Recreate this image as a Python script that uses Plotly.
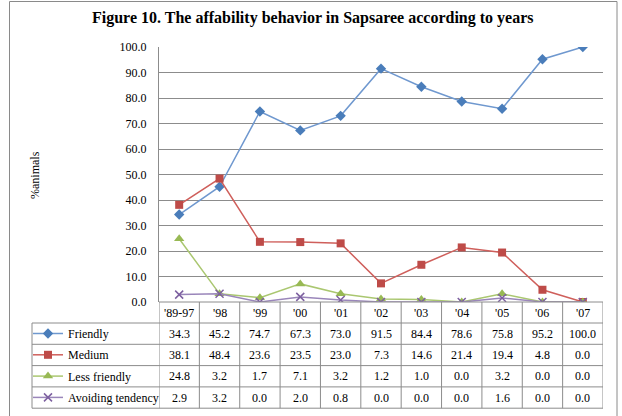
import plotly.graph_objects as go

years = ["'89-97", "'98", "'99", "'00", "'01", "'02", "'03", "'04", "'05", "'06", "'07"]
friendly = [34.3, 45.2, 74.7, 67.3, 73.0, 91.5, 84.4, 78.6, 75.8, 95.2, 100.0]
medium = [38.1, 48.4, 23.6, 23.5, 23.0, 7.3, 14.6, 21.4, 19.4, 4.8, 0.0]
less_friendly = [24.8, 3.2, 1.7, 7.1, 3.2, 1.2, 1.0, 0.0, 3.2, 0.0, 0.0]
avoiding = [2.9, 3.2, 0.0, 2.0, 0.8, 0.0, 0.0, 0.0, 1.6, 0.0, 0.0]
series_names = ["Friendly", "Medium", "Less friendly", "Avoiding tendency"]
y_ticks = [0, 10, 20, 30, 40, 50, 60, 70, 80, 90, 100]
title_text = "Figure 10. The affability behavior in Sapsaree according to years"
y_title = "%animals"

W, H = 622, 416
FONT = "Liberation Serif"
GRID = "#8c8c8c"

def px(x):
    return x / W

def py(y):
    return 1 - y / H

series = [friendly, medium, less_friendly, avoiding]
styles = [
    dict(line="#6f98cf", marker="#4a7dba", symbol="diamond", size=8),
    dict(line="#cf5f5b", marker="#be4b48", symbol="square", size=8),
    dict(line="#aac770", marker="#98b954", symbol="triangle-up", size=9),
    dict(line="#9a86ba", marker="#7d60a0", symbol="x-thin", size=8),
]

fig = go.Figure()
for i, (name, vals, st) in enumerate(zip(series_names, series, styles)):
    mk = dict(color=st["marker"], symbol=st["symbol"], size=st["size"])
    if st["symbol"] == "x-thin":
        mk["line"] = dict(color=st["marker"], width=1.5)
    fig.add_trace(go.Scatter(
        x=years, y=vals, name=name, mode="lines+markers",
        line=dict(color=st["line"], width=1.5), marker=mk,
        legendgroup="g%d" % i,
    ))

# plot area geometry (pixels)
PL, PR, PT, PB = 159, 603, 47, 302
row_edges = [302, 323, 344.3, 365.6, 386.9, 408.2]
TL = 32  # table left edge

shapes = []
shapes.append(dict(type="line", xref="paper", yref="paper", x0=px(PL), x1=px(PR),
                   y0=py(PB), y1=py(PB), line=dict(color=GRID, width=1)))
for ry in row_edges[1:]:
    shapes.append(dict(type="line", xref="paper", yref="paper", x0=px(TL), x1=px(PR),
                       y0=py(ry), y1=py(ry), line=dict(color=GRID, width=1)))
for k in range(len(years) + 1):
    shapes.append(dict(type="line", xref="x", yref="paper", x0=k - 0.5, x1=k - 0.5,
                       y0=py(row_edges[0]), y1=py(row_edges[-1]), line=dict(color=GRID, width=1)))
shapes.append(dict(type="line", xref="paper", yref="paper", x0=px(TL), x1=px(TL),
                   y0=py(row_edges[1]), y1=py(row_edges[-1]), line=dict(color=GRID, width=1)))
shapes.append(dict(type="rect", xref="paper", yref="paper", x0=px(9.5), x1=px(617),
                   y0=py(1.5), y1=py(430), line=dict(color="#8a8a8a", width=1)))

def ann(text, xref, x, y, size=12, **kw):
    d = dict(text=text, xref=xref, yref="paper", x=x, y=y, showarrow=False,
             xanchor="center", yanchor="middle",
             font=dict(family=FONT, size=size, color="black"))
    d.update(kw)
    return d

annotations = []
annotations.append(ann("<b>%s</b>" % title_text, "paper", px(312), py(18), size=16))
annotations.append(ann(y_title, "paper", px(35), py(175), textangle=-90))
for yr in years:
    annotations.append(ann(yr, "x", yr, py((row_edges[0] + row_edges[1]) / 2)))
for r, vals in enumerate(series):
    yc = (row_edges[r + 1] + row_edges[r + 2]) / 2
    for yr, v in zip(years, vals):
        annotations.append(ann("%.1f" % v, "x", yr, py(yc)))

fig.update_layout(
    width=W, height=H, margin=dict(l=0, r=0, t=0, b=0, autoexpand=False),
    paper_bgcolor="white", plot_bgcolor="white",
    font=dict(family=FONT, size=12, color="black"),
    xaxis=dict(domain=[px(PL), px(PR)], range=[-0.5, len(years) - 0.5],
               showticklabels=False, showgrid=False, zeroline=False, ticks="",
               showline=False, fixedrange=True),
    yaxis=dict(domain=[py(PB), py(PT)], range=[0, 100], tickvals=y_ticks,
               ticktext=["%.1f" % t for t in y_ticks], showgrid=True, gridcolor=GRID,
               gridwidth=1, zeroline=False, showline=True, linecolor=GRID, linewidth=1,
               ticks="", ticklabelstandoff=9, tickfont=dict(family=FONT, size=12)),
    showlegend=True,
    legend=dict(x=px(28), y=py(319), xanchor="left", yanchor="top",
                font=dict(family=FONT, size=12, color="black"), itemwidth=30,
                tracegroupgap=2.3, bgcolor="rgba(0,0,0,0)", borderwidth=0,
                traceorder="grouped"),
    shapes=shapes, annotations=annotations,
)

fig.write_html("out.html")
